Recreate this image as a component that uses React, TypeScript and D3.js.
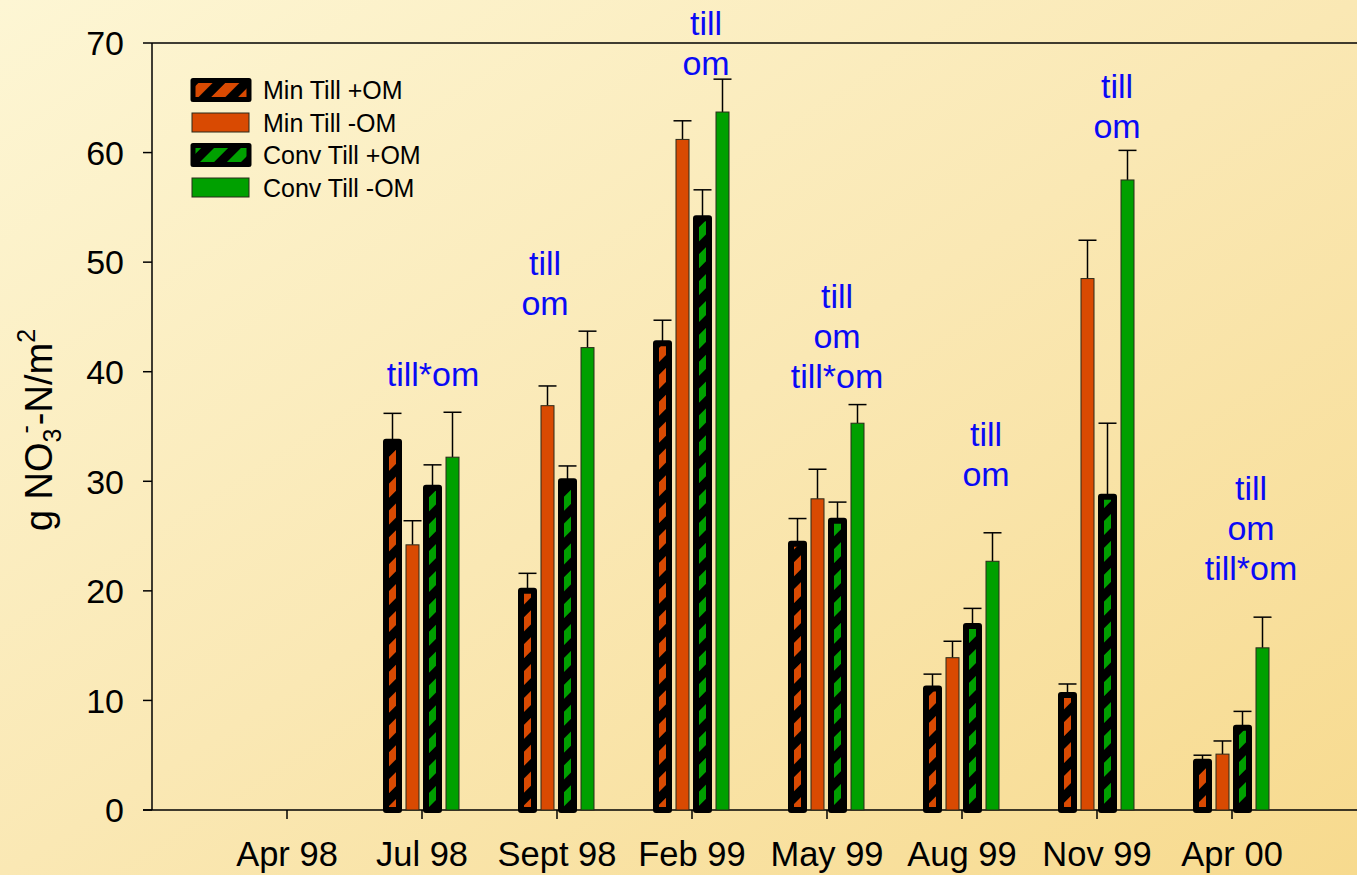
import React from 'react';
import * as d3 from 'd3';

const categories = ['Apr 98', 'Jul 98', 'Sept 98', 'Feb 99', 'May 99', 'Aug 99', 'Nov 99', 'Apr 00'];
const seriesNames = ['Min Till +OM', 'Min Till -OM', 'Conv Till +OM', 'Conv Till -OM'];

const minTillPlusOM: (number | null)[] = [null, 33.6, 20.0, 42.6, 24.3, 11.1, 10.5, 4.4];
const minTillPlusOMErr: (number | null)[] = [null, 2.6, 1.6, 2.1, 2.3, 1.3, 1.0, 0.6];
const minTillMinusOM: (number | null)[] = [null, 24.2, 36.9, 61.2, 28.4, 13.9, 48.5, 5.1];
const minTillMinusOMErr: (number | null)[] = [null, 2.2, 1.8, 1.7, 2.7, 1.5, 3.5, 1.2];
const convTillPlusOM: (number | null)[] = [null, 29.4, 30.0, 54.0, 26.4, 16.8, 28.6, 7.5];
const convTillPlusOMErr: (number | null)[] = [null, 2.1, 1.4, 2.6, 1.7, 1.6, 6.7, 1.5];
const convTillMinusOM: (number | null)[] = [null, 32.2, 42.2, 63.7, 35.3, 22.7, 57.5, 14.8];
const convTillMinusOMErr: (number | null)[] = [null, 4.1, 1.5, 3.0, 1.7, 2.6, 2.7, 2.8];

const yTicks = [0, 10, 20, 30, 40, 50, 60, 70];

// significance annotations: category, text lines, value (data units) of first baseline, x shift
const annCategories = ['Jul 98', 'Sept 98', 'Feb 99', 'May 99', 'Aug 99', 'Nov 99', 'Apr 00'];
const annLines = [
  ['till*om'],
  ['till', 'om'],
  ['till', 'om'],
  ['till', 'om', 'till*om'],
  ['till', 'om'],
  ['till', 'om'],
  ['till', 'om', 'till*om'],
];
const annValues = [38.7, 48.8, 70.7, 45.8, 33.2, 65.0, 28.3];
const annShift = [11, -12, 14, 10, 24, 20, 19];

const ORANGE = '#D94A02';
const GREEN = '#00A000';
const FONT = "Arial, 'Liberation Sans', sans-serif";

const series = [
  { name: seriesNames[0], values: minTillPlusOM, errs: minTillPlusOMErr, color: ORANGE, hatched: true },
  { name: seriesNames[1], values: minTillMinusOM, errs: minTillMinusOMErr, color: ORANGE, hatched: false },
  { name: seriesNames[2], values: convTillPlusOM, errs: convTillPlusOMErr, color: GREEN, hatched: true },
  { name: seriesNames[3], values: convTillMinusOM, errs: convTillMinusOMErr, color: GREEN, hatched: false },
];

export default function App() {
  const W = 1357, H = 875;
  const left = 152, top = 43, bottom = 810;
  const x0 = d3.scalePoint<string>().domain(categories).range([left, left + 135 * 9]).padding(1);
  const x1 = d3.scaleBand<string>().domain(seriesNames).range([-39.5, 40.5]);
  const y = d3.scaleLinear().domain([0, 70]).range([bottom, top]);
  const barW = 13;

  return (
    <svg width={W} height={H} style={{ position: 'fixed', left: 0, top: 0 }} fontFamily={FONT}>
      <defs>
        <linearGradient id="bg" x1="0" y1="0" x2="1" y2="1">
          <stop offset="0" stopColor="#FDF6D4" />
          <stop offset="0.5" stopColor="#FAE8B4" />
          <stop offset="1" stopColor="#F7DA8E" />
        </linearGradient>
        {[['hatchOrange', ORANGE], ['hatchGreen', GREEN]].map(([id, c]) => (
          <pattern key={id} id={id} patternUnits="userSpaceOnUse" width={19} height={20} patternTransform="rotate(45)">
            <rect x={0} y={0} width={19} height={20} fill={c} />
            <rect x={0} y={0} width={9} height={20} fill="#000" />
          </pattern>
        ))}
      </defs>
      <rect x={0} y={0} width={W} height={H} fill="url(#bg)" />

      {/* axes */}
      <line x1={left} x2={W} y1={top} y2={top} stroke="#000" strokeWidth={1.5} />
      <line x1={left - 9} x2={W} y1={bottom} y2={bottom} stroke="#000" strokeWidth={1.5} />
      <line x1={left} x2={left} y1={top} y2={bottom} stroke="#000" strokeWidth={1.5} />
      {yTicks.map((t) => (
        <g key={t}>
          <line x1={left - 9} x2={left} y1={y(t)} y2={y(t)} stroke="#000" strokeWidth={1.5} />
          <text x={124} y={y(t)} dy="0.36em" textAnchor="end" fontSize={34} fill="#000">{t}</text>
        </g>
      ))}
      {categories.map((c) => (
        <g key={c}>
          <line x1={x0(c)!} x2={x0(c)!} y1={bottom} y2={bottom + 9} stroke="#000" strokeWidth={1.5} />
          <text x={x0(c)!} y={866} textAnchor="middle" fontSize={34.5} fill="#000">{c}</text>
        </g>
      ))}

      {/* bars */}
      {series.map((s) => (
        <g key={s.name}>
          {categories.map((c, i) => {
            const v = s.values[i];
            if (v == null) return null;
            const cx = x0(c)! + x1(s.name)! + x1.bandwidth() / 2;
            const e = s.errs[i] ?? 0;
            return (
              <g key={c}>
                <line x1={cx} x2={cx} y1={y(v)} y2={y(v + e)} stroke="#000" strokeWidth={1.5} />
                <line x1={cx - 9} x2={cx + 9} y1={y(v + e)} y2={y(v + e)} stroke="#000" strokeWidth={1.5} />
                {s.hatched ? (
                  <rect x={cx - barW / 2} y={y(v)} width={barW} height={y(0) - y(v)}
                    fill={`url(#${s.color === ORANGE ? 'hatchOrange' : 'hatchGreen'})`}
                    stroke="#000" strokeWidth={6} strokeLinejoin="round" />
                ) : (
                  <rect x={cx - barW / 2} y={y(v)} width={barW} height={y(0) - y(v)}
                    fill={s.color} stroke="#2a2a1a" strokeWidth={1} />
                )}
              </g>
            );
          })}
        </g>
      ))}

      {/* annotations */}
      {annCategories.map((c, i) => (
        <text key={c} x={x0(c)! + annShift[i]} y={y(annValues[i])} textAnchor="middle" fontSize={34} fill="#0A0AF5">
          {annLines[i].map((l, j) => (
            <tspan key={j} x={x0(c)! + annShift[i]} dy={j === 0 ? 0 : 40}>{l}</tspan>
          ))}
        </text>
      ))}

      {/* legend */}
      {series.map((s, i) => {
        const cy = 90 + i * 32.5;
        return (
          <g key={s.name}>
            {s.hatched ? (
              <rect x={193} y={cy - 9.5} width={56} height={19}
                fill={`url(#${s.color === ORANGE ? 'hatchOrange' : 'hatchGreen'})`}
                stroke="#000" strokeWidth={5} strokeLinejoin="round" />
            ) : (
              <rect x={192} y={cy - 9.5} width={57} height={19} fill={s.color} stroke="#2a2a1a" strokeWidth={1} />
            )}
            <text x={263} y={cy} dy="0.36em" fontSize={25} fill="#000">{s.name}</text>
          </g>
        );
      })}

      {/* y label */}
      <text transform="translate(52,430) rotate(-90)" textAnchor="middle" fontSize={38} fill="#000">
        g NO<tspan fontSize={25} dy={9}>3</tspan><tspan fontSize={25} dy={-27} dx={-5}>-</tspan><tspan dy={18}>-N/m</tspan><tspan fontSize={25} dy={-17}>2</tspan>
      </text>
    </svg>
  );
}
